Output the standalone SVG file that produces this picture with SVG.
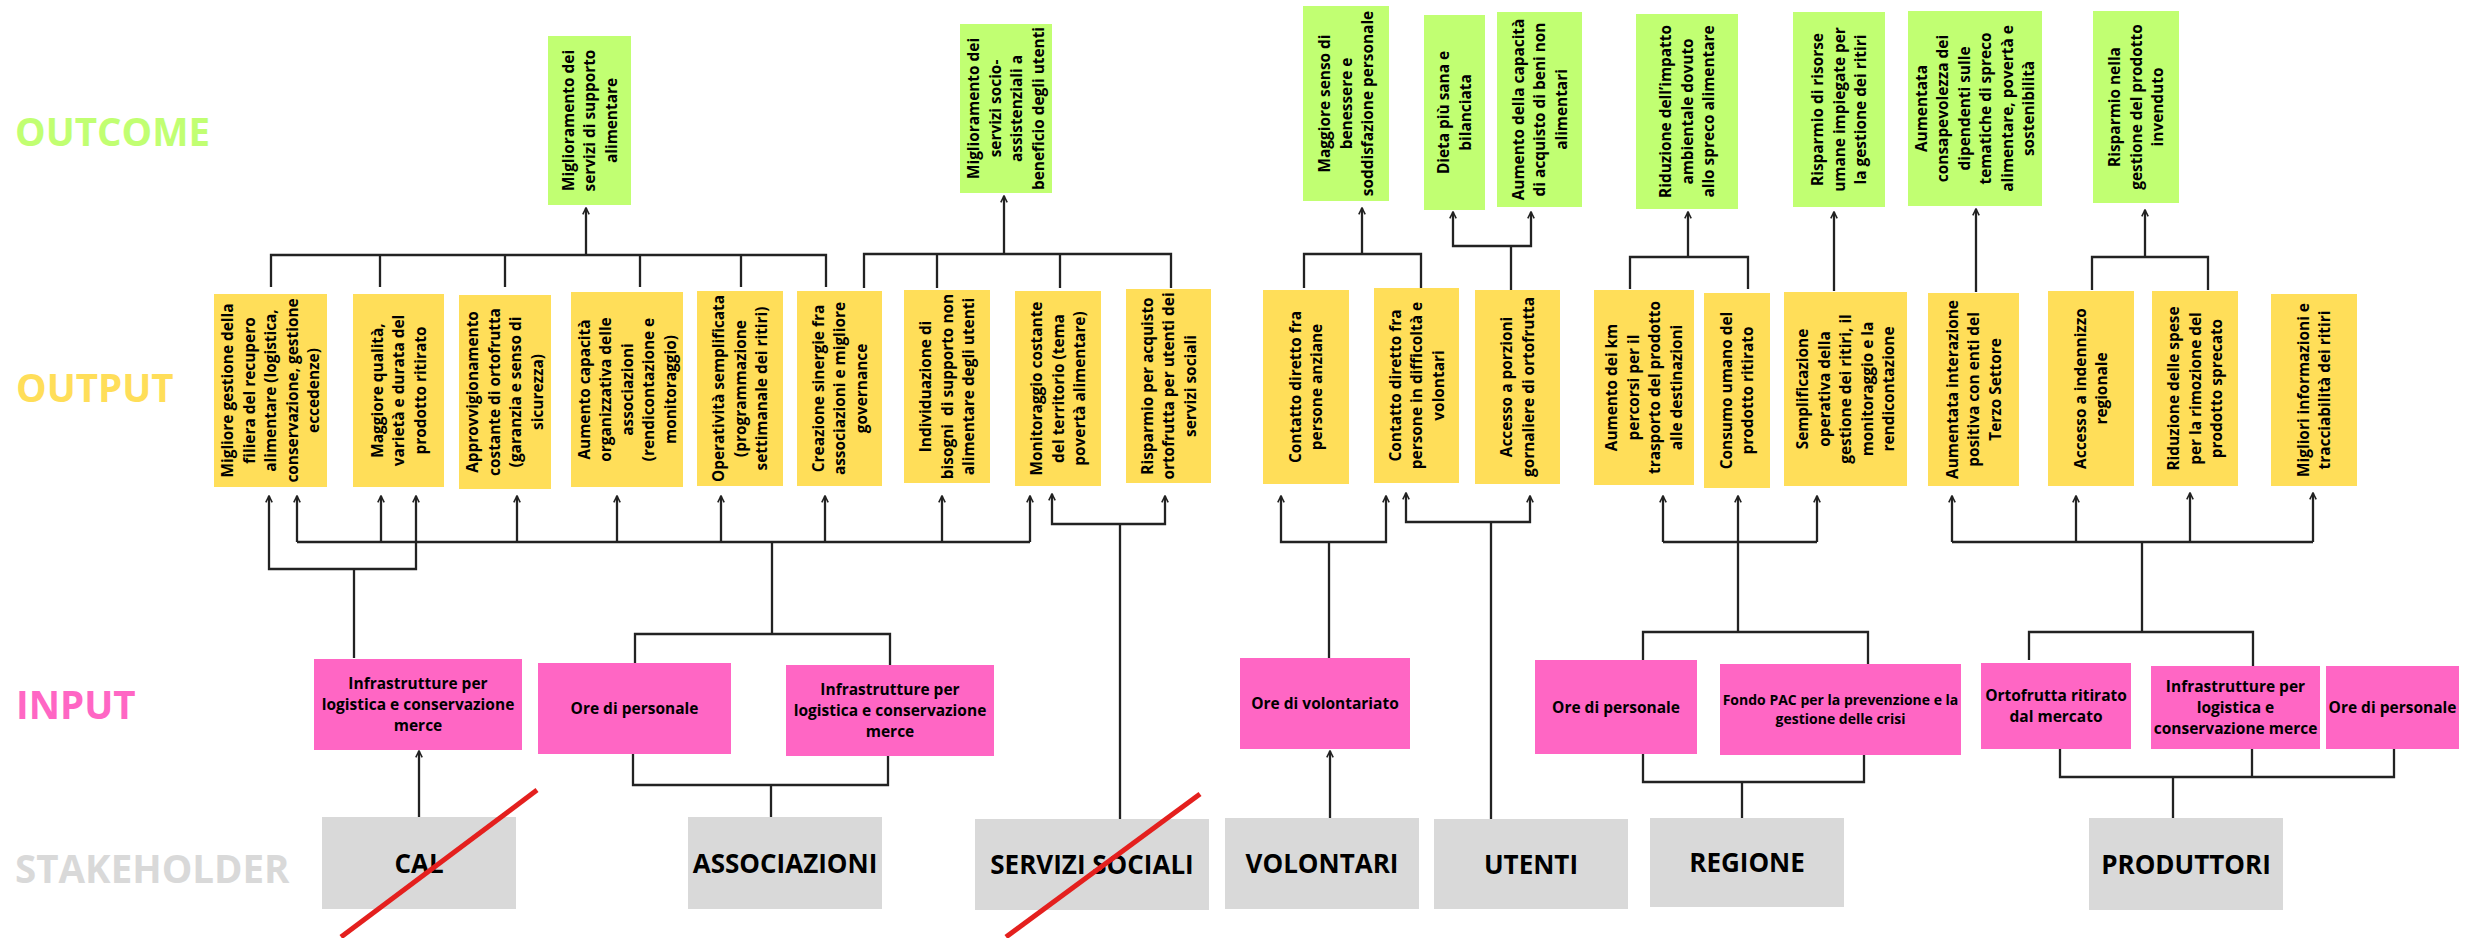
<svg xmlns="http://www.w3.org/2000/svg" width="2475" height="938" viewBox="0 0 2475 938">
<style>
.o{fill:#c1ff72}.p{fill:#ffde59}.i{fill:#ff66c4}.s{fill:#d9d9d9}
.t{font-family:'Open Sans','Noto Sans','DejaVu Sans',sans-serif;font-weight:700;font-size:15.4px;fill:#000;text-anchor:middle}
.ti{font-size:15.5px}.t6{font-size:14px}
.st{font-family:'Open Sans','Noto Sans','DejaVu Sans',sans-serif;font-weight:700;font-size:26px;fill:#000;text-anchor:middle}
.lbl{font-family:'Open Sans','Noto Sans','DejaVu Sans',sans-serif;font-weight:700;font-size:38.5px}
.c{stroke:#222;stroke-width:2.3;fill:none}
.a{marker-end:url(#ah)}
.x{stroke:#e4201e;stroke-width:5;stroke-linecap:butt}
</style>
<defs>
<marker id="ah" viewBox="0 0 10 10" refX="9" refY="5" markerWidth="8" markerHeight="8" markerUnits="userSpaceOnUse" orient="auto"><path d="M1,1 L9,5 L1,9" fill="none" stroke="#222" stroke-width="2"/></marker>
</defs>
<rect width="2475" height="938" fill="#ffffff"/>
<g id="row-labels">
<text class="lbl" x="15" y="146" fill="#c1ff72">OUTCOME</text>
<text class="lbl" x="16" y="402" fill="#ffde59">OUTPUT</text>
<text class="lbl" x="16" y="719" fill="#ff66c4">INPUT</text>
<text class="lbl" x="15" y="883" fill="#d9d9d9">STAKEHOLDER</text>
</g>
<g id="connectors">
<path class="c" d="M271,287 V255 H826 V287 M380,255 V287 M505,255 V287 M640,255 V287 M741,255 V287"/>
<path class="c a" d="M586,255 V208"/>
<path class="c" d="M864,288 V254 H1171 V288 M937,254 V288 M1060,254 V288"/>
<path class="c a" d="M1004,254 V196"/>
<path class="c" d="M1304,288 V254 H1421 V288"/>
<path class="c a" d="M1362,254 V208"/>
<path class="c" d="M1511,290 V246"/>
<path class="c a" d="M1511,246 H1453 V212"/>
<path class="c a" d="M1511,246 H1531 V212"/>
<path class="c" d="M1630,289 V257 H1748 V289"/>
<path class="c a" d="M1688,257 V212"/>
<path class="c a" d="M1834,291 V212"/>
<path class="c a" d="M1976,292 V209"/>
<path class="c" d="M2092,290 V257 H2208 V290"/>
<path class="c a" d="M2145,257 V210"/>
<path class="c" d="M354,658 V569"/>
<path class="c a" d="M354,569 H269 V496"/>
<path class="c a" d="M354,569 H416 V496"/>
<path class="c" d="M297,542 H1030"/>
<path class="c a" d="M297,542 V496"/>
<path class="c a" d="M381,542 V496"/>
<path class="c a" d="M517,542 V496"/>
<path class="c a" d="M617,542 V496"/>
<path class="c a" d="M721,542 V496"/>
<path class="c a" d="M825,542 V496"/>
<path class="c a" d="M942,542 V496"/>
<path class="c a" d="M1030,542 V496"/>
<path class="c" d="M772,542 V634 M635,663 V634 H890 V665 M633,754 V785 H888 V756 M771,785 V817"/>
<path class="c a" d="M419,817 V751"/>
<path class="c" d="M1120,819 V524"/>
<path class="c a" d="M1120,524 H1052 V494"/>
<path class="c a" d="M1120,524 H1165 V496"/>
<path class="c" d="M1329,658 V542"/>
<path class="c a" d="M1329,542 H1281 V496"/>
<path class="c a" d="M1329,542 H1386 V496"/>
<path class="c a" d="M1330,818 V751"/>
<path class="c" d="M1491,819 V522"/>
<path class="c a" d="M1491,522 H1406 V493"/>
<path class="c a" d="M1491,522 H1530 V496"/>
<path class="c" d="M1663,542 H1817 M1738,542 V632 M1643,660 V632 H1868 V664 M1643,754 V782 H1864 V755 M1742,782 V818"/>
<path class="c a" d="M1663,542 V496"/>
<path class="c a" d="M1738,542 V496"/>
<path class="c a" d="M1817,542 V496"/>
<path class="c" d="M1952,542 H2313 M2142,542 V632 M2029,660 V632 H2253 V666 M2060,749 V777 H2394 V749 M2252,749 V777 M2173,777 V818"/>
<path class="c a" d="M1952,542 V496"/>
<path class="c a" d="M2076,542 V496"/>
<path class="c a" d="M2190,542 V493"/>
<path class="c a" d="M2313,542 V493"/>
</g>
<g id="o1"><rect class="o" x="548" y="36" width="83" height="169"/><text class="t" transform="translate(589.5,120.5) rotate(-90)"><tspan x="0" y="-16">Miglioramento dei</tspan><tspan x="0" y="5.5">servizi di supporto</tspan><tspan x="0" y="27">alimentare</tspan></text></g>
<g id="o2"><rect class="o" x="960" y="24" width="92" height="169"/><text class="t" transform="translate(1006,108.5) rotate(-90)"><tspan x="0" y="-26.75">Miglioramento dei</tspan><tspan x="0" y="-5.25">servizi socio-</tspan><tspan x="0" y="16.25">assistenziali a</tspan><tspan x="0" y="37.75">beneficio degli utenti</tspan></text></g>
<g id="o3"><rect class="o" x="1303" y="6" width="86" height="195"/><text class="t" transform="translate(1346,103.5) rotate(-90)"><tspan x="0" y="-16">Maggiore senso di</tspan><tspan x="0" y="5.5">benessere e</tspan><tspan x="0" y="27">soddisfazione personale</tspan></text></g>
<g id="o4"><rect class="o" x="1424" y="15" width="61" height="195"/><text class="t" transform="translate(1454.5,112.5) rotate(-90)"><tspan x="0" y="-5.25">Dieta più sana e</tspan><tspan x="0" y="16.25">bilanciata</tspan></text></g>
<g id="o5"><rect class="o" x="1497" y="12" width="85" height="195"/><text class="t" transform="translate(1539.5,109.5) rotate(-90)"><tspan x="0" y="-16">Aumento della capacità</tspan><tspan x="0" y="5.5">di acquisto di beni non</tspan><tspan x="0" y="27">alimentari</tspan></text></g>
<g id="o6"><rect class="o" x="1636" y="14" width="102" height="195"/><text class="t" transform="translate(1687,111.5) rotate(-90)"><tspan x="0" y="-16">Riduzione dell’impatto</tspan><tspan x="0" y="5.5">ambientale dovuto</tspan><tspan x="0" y="27">allo spreco alimentare</tspan></text></g>
<g id="o7"><rect class="o" x="1793" y="12" width="92" height="195"/><text class="t" transform="translate(1839,109.5) rotate(-90)"><tspan x="0" y="-16">Risparmio di risorse</tspan><tspan x="0" y="5.5">umane impiegate per</tspan><tspan x="0" y="27">la gestione dei ritiri</tspan></text></g>
<g id="o8"><rect class="o" x="1908" y="11" width="134" height="195"/><text class="t" transform="translate(1975,108.5) rotate(-90)"><tspan x="0" y="-48.25">Aumentata</tspan><tspan x="0" y="-26.75">consapevolezza dei</tspan><tspan x="0" y="-5.25">dipendenti sulle</tspan><tspan x="0" y="16.25">tematiche di spreco</tspan><tspan x="0" y="37.75">alimentare, povertà e</tspan><tspan x="0" y="59.25">sostenibilità</tspan></text></g>
<g id="o9"><rect class="o" x="2093" y="11" width="86" height="192"/><text class="t" transform="translate(2136,107) rotate(-90)"><tspan x="0" y="-16">Risparmio nella</tspan><tspan x="0" y="5.5">gestione del prodotto</tspan><tspan x="0" y="27">invenduto</tspan></text></g>
<g id="p1"><rect class="p" x="214" y="294" width="113" height="193"/><text class="t" transform="translate(270.5,390.5) rotate(-90)"><tspan x="0" y="-37.5">Migliore gestione della</tspan><tspan x="0" y="-16">filiera del recupero</tspan><tspan x="0" y="5.5">alimentare (logistica,</tspan><tspan x="0" y="27">conservazione, gestione</tspan><tspan x="0" y="48.5">eccedenze)</tspan></text></g>
<g id="p2"><rect class="p" x="353" y="294" width="91" height="193"/><text class="t" transform="translate(398.5,390.5) rotate(-90)"><tspan x="0" y="-16">Maggiore qualità,</tspan><tspan x="0" y="5.5">varietà e durata del</tspan><tspan x="0" y="27">prodotto ritirato</tspan></text></g>
<g id="p3"><rect class="p" x="459" y="295" width="92" height="194"/><text class="t" transform="translate(505,392) rotate(-90)"><tspan x="0" y="-26.75">Approvvigionamento</tspan><tspan x="0" y="-5.25">costante di ortofrutta</tspan><tspan x="0" y="16.25">(garanzia e senso di</tspan><tspan x="0" y="37.75">sicurezza)</tspan></text></g>
<g id="p4"><rect class="p" x="571" y="292" width="112" height="195"/><text class="t" transform="translate(627,389.5) rotate(-90)"><tspan x="0" y="-37.5">Aumento capacità</tspan><tspan x="0" y="-16">organizzativa delle</tspan><tspan x="0" y="5.5">associazioni</tspan><tspan x="0" y="27">(rendicontazione e</tspan><tspan x="0" y="48.5">monitoraggio)</tspan></text></g>
<g id="p5"><rect class="p" x="697" y="291" width="86" height="195"/><text class="t" transform="translate(740,388.5) rotate(-90)"><tspan x="0" y="-16">Operatività semplificata</tspan><tspan x="0" y="5.5">(programmazione</tspan><tspan x="0" y="27">settimanale dei ritiri)</tspan></text></g>
<g id="p6"><rect class="p" x="797" y="291" width="85" height="195"/><text class="t" transform="translate(839.5,388.5) rotate(-90)"><tspan x="0" y="-16">Creazione sinergie fra</tspan><tspan x="0" y="5.5">associazioni e migliore</tspan><tspan x="0" y="27">governance</tspan></text></g>
<g id="p7"><rect class="p" x="904" y="290" width="86" height="193"/><text class="t" transform="translate(947,386.5) rotate(-90)"><tspan x="0" y="-16">Individuazione di</tspan><tspan x="0" y="5.5" xml:space="preserve">bisogni  di supporto non</tspan><tspan x="0" y="27">alimentare degli utenti</tspan></text></g>
<g id="p8"><rect class="p" x="1015" y="291" width="86" height="195"/><text class="t" transform="translate(1058,388.5) rotate(-90)"><tspan x="0" y="-16">Monitoraggio costante</tspan><tspan x="0" y="5.5">del territorio (tema</tspan><tspan x="0" y="27">povertà alimentare)</tspan></text></g>
<g id="p9"><rect class="p" x="1126" y="289" width="85" height="194"/><text class="t" transform="translate(1168.5,386) rotate(-90)"><tspan x="0" y="-16">Risparmio per acquisto</tspan><tspan x="0" y="5.5">ortofrutta per utenti dei</tspan><tspan x="0" y="27">servizi sociali</tspan></text></g>
<g id="p10"><rect class="p" x="1263" y="290" width="86" height="194"/><text class="t" transform="translate(1306,387) rotate(-90)"><tspan x="0" y="-5.25">Contatto diretto fra</tspan><tspan x="0" y="16.25">persone anziane</tspan></text></g>
<g id="p11"><rect class="p" x="1374" y="288" width="85" height="195"/><text class="t" transform="translate(1416.5,385.5) rotate(-90)"><tspan x="0" y="-16">Contatto diretto fra</tspan><tspan x="0" y="5.5">persone in difficoltà e</tspan><tspan x="0" y="27">volontari</tspan></text></g>
<g id="p12"><rect class="p" x="1475" y="290" width="85" height="194"/><text class="t" transform="translate(1517.5,387) rotate(-90)"><tspan x="0" y="-5.25">Accesso a porzioni</tspan><tspan x="0" y="16.25">gornaliere di ortofrutta</tspan></text></g>
<g id="p13"><rect class="p" x="1594" y="290" width="100" height="195"/><text class="t" transform="translate(1644,387.5) rotate(-90)"><tspan x="0" y="-26.75">Aumento dei km</tspan><tspan x="0" y="-5.25">percorsi per il</tspan><tspan x="0" y="16.25">trasporto del prodotto</tspan><tspan x="0" y="37.75">alle destinazioni</tspan></text></g>
<g id="p14"><rect class="p" x="1704" y="293" width="66" height="195"/><text class="t" transform="translate(1737,390.5) rotate(-90)"><tspan x="0" y="-5.25">Consumo umano del</tspan><tspan x="0" y="16.25">prodotto ritirato</tspan></text></g>
<g id="p15"><rect class="p" x="1784" y="292" width="123" height="194"/><text class="t" transform="translate(1845.5,389) rotate(-90)"><tspan x="0" y="-37.5">Semplificazione</tspan><tspan x="0" y="-16">operativa della</tspan><tspan x="0" y="5.5">gestione dei ritiri, il</tspan><tspan x="0" y="27">monitoraggio e la</tspan><tspan x="0" y="48.5">rendicontazione</tspan></text></g>
<g id="p16"><rect class="p" x="1928" y="293" width="91" height="193"/><text class="t" transform="translate(1973.5,389.5) rotate(-90)"><tspan x="0" y="-16">Aumentata interazione</tspan><tspan x="0" y="5.5">positiva con enti del</tspan><tspan x="0" y="27">Terzo Settore</tspan></text></g>
<g id="p17"><rect class="p" x="2048" y="291" width="86" height="195"/><text class="t" transform="translate(2091,388.5) rotate(-90)"><tspan x="0" y="-5.25">Accesso a indennizzo</tspan><tspan x="0" y="16.25">regionale</tspan></text></g>
<g id="p18"><rect class="p" x="2152" y="291" width="86" height="195"/><text class="t" transform="translate(2195,388.5) rotate(-90)"><tspan x="0" y="-16">Riduzione delle spese</tspan><tspan x="0" y="5.5">per la rimozione del</tspan><tspan x="0" y="27">prodotto sprecato</tspan></text></g>
<g id="p19"><rect class="p" x="2271" y="294" width="86" height="192"/><text class="t" transform="translate(2314,390) rotate(-90)"><tspan x="0" y="-5.25">Migliori informazioni e</tspan><tspan x="0" y="16.25">tracciabilità dei ritiri</tspan></text></g>
<g id="i1"><rect class="i" x="314" y="659" width="208" height="91"/><text class="t ti"><tspan x="418" y="689">Infrastrutture per</tspan><tspan x="418" y="710">logistica e conservazione</tspan><tspan x="418" y="731">merce</tspan></text></g>
<g id="i2"><rect class="i" x="538" y="663" width="193" height="91"/><text class="t ti" x="634.5" y="714">Ore di personale</text></g>
<g id="i3"><rect class="i" x="786" y="665" width="208" height="91"/><text class="t ti"><tspan x="890" y="695">Infrastrutture per</tspan><tspan x="890" y="716">logistica e conservazione</tspan><tspan x="890" y="737">merce</tspan></text></g>
<g id="i4"><rect class="i" x="1240" y="658" width="170" height="91"/><text class="t ti" x="1325" y="709">Ore di volontariato</text></g>
<g id="i5"><rect class="i" x="1535" y="660" width="162" height="94"/><text class="t ti" x="1616" y="712.5">Ore di personale</text></g>
<g id="i6"><rect class="i" x="1720" y="664" width="241" height="91"/><text class="t t6"><tspan x="1840.5" y="704.7">Fondo PAC per la prevenzione e la</tspan><tspan x="1840.5" y="724.3">gestione delle crisi</tspan></text></g>
<g id="i7"><rect class="i" x="1981" y="663" width="150" height="86"/><text class="t ti"><tspan x="2056" y="701">Ortofrutta ritirato</tspan><tspan x="2056" y="722">dal mercato</tspan></text></g>
<g id="i8"><rect class="i" x="2151" y="666" width="169" height="83"/><text class="t ti"><tspan x="2235.5" y="692">Infrastrutture per</tspan><tspan x="2235.5" y="713">logistica e</tspan><tspan x="2235.5" y="734">conservazione merce</tspan></text></g>
<g id="i9"><rect class="i" x="2326" y="666" width="133" height="83"/><text class="t ti" x="2392.5" y="713">Ore di personale</text></g>
<g id="s-cal"><rect class="s" x="322" y="817" width="194" height="92"/><text class="st" x="419" y="872.5">CAL</text><line class="x" x1="537" y1="790" x2="341" y2="937"/></g>
<g id="s-associazioni"><rect class="s" x="688" y="817" width="194" height="92"/><text class="st" x="785" y="872.5">ASSOCIAZIONI</text></g>
<g id="s-servizi"><rect class="s" x="975" y="819" width="234" height="91"/><text class="st" x="1092" y="874">SERVIZI SOCIALI</text><line class="x" x1="1200" y1="794" x2="1006" y2="937"/></g>
<g id="s-volontari"><rect class="s" x="1225" y="818" width="194" height="91"/><text class="st" x="1322" y="873">VOLONTARI</text></g>
<g id="s-utenti"><rect class="s" x="1434" y="819" width="194" height="90"/><text class="st" x="1531" y="873.5">UTENTI</text></g>
<g id="s-regione"><rect class="s" x="1650" y="818" width="194" height="89"/><text class="st" x="1747" y="872">REGIONE</text></g>
<g id="s-produttori"><rect class="s" x="2089" y="818" width="194" height="92"/><text class="st" x="2186" y="873.5">PRODUTTORI</text></g>
</svg>
